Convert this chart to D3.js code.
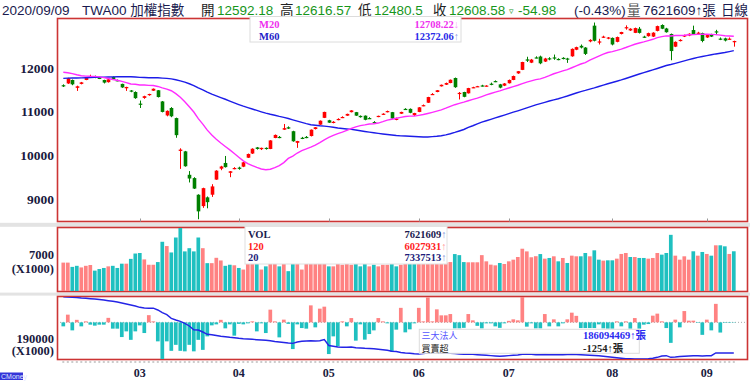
<!DOCTYPE html>
<html><head><meta charset="utf-8">
<script src="https://cdn.jsdelivr.net/npm/d3@7"></script>
<style>html,body{margin:0;padding:0;background:#fff;}svg{display:block;}</style>
</head><body>
<svg id="c" width="750" height="391"></svg>
<script>
// ---------------- DATA ----------------
const tradingDays = [
"02/05","02/06","02/07","02/10","02/11","02/12","02/13","02/14","02/17","02/18","02/19","02/20","02/21","02/24","02/25","02/26","02/27",
"03/02","03/03","03/04","03/05","03/06","03/09","03/10","03/11","03/12","03/13","03/16","03/17","03/18","03/19","03/20","03/23","03/24","03/25","03/26","03/27","03/30","03/31",
"04/01","04/06","04/07","04/08","04/09","04/10","04/13","04/14","04/15","04/16","04/17","04/20","04/21","04/22","04/23","04/24","04/27","04/28","04/29","04/30",
"05/04","05/05","05/06","05/07","05/08","05/11","05/12","05/13","05/14","05/15","05/18","05/19","05/20","05/21","05/22","05/25","05/26","05/27","05/28","05/29",
"06/01","06/02","06/03","06/04","06/05","06/08","06/09","06/10","06/11","06/12","06/15","06/16","06/17","06/18","06/19","06/22","06/23","06/24","06/29","06/30",
"07/01","07/02","07/03","07/06","07/07","07/08","07/09","07/10","07/13","07/14","07/15","07/16","07/17","07/20","07/21","07/22","07/23","07/24","07/27","07/28","07/29","07/30","07/31",
"08/03","08/04","08/05","08/06","08/07","08/10","08/11","08/12","08/13","08/14","08/17","08/18","08/19","08/20","08/21","08/24","08/25","08/26","08/27","08/28","08/31",
"09/01","09/02","09/03","09/04","09/07","09/08","09/09"];

// closes before the first visible day (for moving averages)
const preCloses = [11426,11525,11520,11558,11560,11529,11570,11492,11557,11542,11567,11612,11542,11452,11529,11623,11635,11640,11580,11489,
11458,11428,11478,11560,11610,11620,11594,11640,11705,11927,11928,12020,12038,12039,12050,12090,12100,12068,12093,12110,11998,11997,
12100,12110,11953,11880,11817,11970,12024,12113,12179,12066,12091,12090,12118,11421,11495,11354,11555];

const opens = [11600,11640,11720,11540,11630,11720,11790,11800,11770,11720,11670,11790,11715,11630,11530,11480,11445,
11180,11310,11375,11475,11485,11230,10910,11080,10850,10100,10090,9555,9480,9100,8840,9040,9100,9445,9695,9825,9600,9700,
9720,9740,9945,10040,10180,10140,10170,10145,10395,10420,10585,10640,10550,10285,10400,10420,10440,10600,10700,10855,
10800,10750,10820,10870,10905,10985,10985,10900,10905,10850,10760,10880,10930,10985,10985,10825,10950,11060,11060,10915,
10990,11130,11200,11390,11445,11575,11612,11650,11765,11415,11445,11415,11545,11570,11595,11585,11635,11695,11620,11590,
11645,11720,11870,11950,12190,12115,12235,12255,12140,12215,12235,12200,12225,12210,12260,12410,12500,12460,12600,12960,12575,12700,12665,
12680,12590,12770,12915,12850,12795,12890,12710,12720,12710,12840,12975,12895,12770,12480,12620,12710,12735,12860,12790,12790,
12690,12762,12830,12665,12670,12650,12592.18];
const highs = [11620,11770,11730,11590,11675,11775,11840,11820,11790,11725,11745,11800,11730,11635,11565,11490,11460,
11250,11360,11405,11525,11490,11240,11025,11100,10860,10160,10100,9640,9500,9110,9260,9060,9340,9660,9760,9985,9640,9730,
9740,9850,10040,10160,10190,10175,10180,10345,10475,10440,10715,10660,10560,10330,10420,10440,10590,10645,10795,10995,
10810,10780,10845,10890,10950,11030,10990,10910,10910,10870,10780,10905,10960,11020,10990,10860,10995,11075,11070,10970,
11100,11160,11335,11420,11490,11615,11660,11730,11775,11445,11450,11540,11565,11585,11610,11600,11660,11710,11630,11650,
11730,11820,11925,12135,12250,12200,12260,12275,12225,12240,12300,12215,12240,12225,12440,12480,12530,12470,12650,13031,12660,12730,12700,
12690,12710,12820,12967,12900,12915,12930,12730,12800,12810,12960,12990,12910,12780,12600,12650,12755,12785,12960,12820,12800,
12755,12775,12865,12690,12685,12690,12616.57];
const lows = [11560,11630,11600,11470,11620,11715,11770,11760,11740,11640,11660,11725,11690,11540,11470,11440,11290,
11080,11290,11360,11470,11320,10980,10890,10870,10400,9690,9740,9380,9230,8540,8800,8790,9050,9440,9660,9720,9500,9680,
9670,9730,9940,10030,10130,10120,10130,10140,10390,10390,10580,10600,10310,10170,10370,10390,10430,10590,10695,10850,
10740,10730,10800,10850,10900,10980,10900,10860,10800,10830,10740,10870,10920,10980,10830,10800,10945,11035,10960,10900,
10985,11120,11195,11380,11440,11570,11605,11645,11540,11275,11325,11410,11535,11560,11570,11570,11600,11670,11530,11580,
11640,11715,11860,11945,12130,12105,12215,12080,12130,12170,12180,12170,12190,12110,12250,12400,12440,12290,12580,12600,12530,12680,12650,
12510,12580,12760,12868,12840,12790,12780,12680,12710,12700,12830,12880,12800,12170,12470,12600,12700,12720,12765,12770,12580,
12680,12700,12745,12630,12600,12640,12480.5];
const closes = [11590,11760,11620,11575,11665,11770,11795,11780,11760,11660,11735,11730,11705,11550,11560,11460,11305,
11170,11350,11400,11520,11330,10990,11015,10890,10460,10130,9750,9470,9240,8720,9250,8930,9290,9650,9745,9730,9635,9710,
9690,9840,10030,10150,10145,10170,10150,10340,10465,10415,10620,10610,10320,10325,10395,10410,10585,10640,10790,10990,
10745,10765,10830,10875,10945,11025,10905,10870,10810,10845,10750,10900,10950,11010,10840,10835,10990,11050,10970,10965,
11095,11145,11330,11400,11485,11610,11650,11725,11555,11425,11335,11535,11555,11578,11588,11592,11625,11685,11545,11640,
11720,11810,11920,12130,12160,12185,12225,12100,12210,12200,12225,12185,12205,12195,12430,12470,12460,12315,12635,12615,12600,12710,12690,
12530,12700,12815,12925,12890,12905,12795,12700,12790,12800,12950,12890,12810,12380,12590,12635,12745,12775,12770,12800,12610,
12745,12710,12820,12650,12620,12663.56,12608.58];

// volume, in 1000 張
const volumes = [5500,5500,4700,4900,4600,4900,5050,4000,4300,4500,4800,4900,4500,5300,5300,6200,7200,
7300,6100,5100,5100,5600,9400,8600,7400,10200,12000,7600,8200,7600,10200,8200,5400,5400,6400,5900,4900,5100,5000,
4500,4200,5600,5800,5500,4200,4800,5600,5500,4800,5900,3900,5600,5500,4200,5400,5600,5700,5600,6500,
4800,4800,5350,5100,5500,5100,5500,4800,5400,4800,5100,4800,5100,5100,5400,4800,5100,5400,5500,5300,
5600,5400,6000,5800,5600,5700,5500,5600,7100,6900,5600,5560,5560,5560,6900,5740,5120,4990,5430,5240,
5740,6050,6550,8100,7600,6500,6700,7100,6240,6370,6680,5740,6370,5430,6800,6680,6680,7300,6680,7800,6050,5870,5930,
5930,6240,7120,7300,6550,6550,6370,6370,6240,6370,7300,6990,7300,10700,6800,6050,6680,6050,7620,6800,7490,
7120,6800,8740,8740,8550,7120,7621.609];

// 三大法人 買賣超, 張
const instNet = [-15900,30700,-31900,10000,-15900,4000,-9200,-13100,-9200,-9200,17900,-25100,-25100,-58600,-35900,-69700,-35900,
-12000,-42600,28700,4000,-75700,-149400,-75700,-113500,-89600,-113500,-115500,-89600,-115500,-69700,-109600,-55800,-12000,-8000,10000,-23900,-8000,-53000,
-6000,-8000,-4000,4000,-35900,-4000,-42600,50600,4000,-59800,10800,-6000,-106400,-8000,-22700,-25100,67700,-19900,54600,62500,
-126300,-55800,-95600,4000,-15900,17100,-72900,-8000,-68900,-46600,-31900,17100,4000,-4000,-116700,-29100,57800,-39800,-27900,-4000,
57800,4000,99600,4000,51800,27900,27900,33100,-23900,-23900,-21900,33100,8000,-13900,-23900,-4000,-4000,-15900,-21900,-4000,
6000,12000,8000,101600,-17100,-4000,-23900,-23900,33100,-15900,12000,-15900,-4000,12000,38600,25900,-22700,-22700,-22700,-22700,-8000,-23900,-25100,
-25100,4000,-15900,4000,-25100,17100,-25100,-9200,-6800,26700,34700,4000,-22700,-81700,10800,-19900,45000,6800,6800,-2000,-49800,
10800,-31900,73700,-40600,-2000,-2000,-1254];

// 三大法人 total, 1000 張
const instHold = [200755,200676,200598,200520,200416,200338,200234,200156,200025,199895,199713,199557,199374,199114,198854,198593,198333,
197994,197812,197734,197760,197291,196588,196067,195130,194687,194349,193828,193125,192161,192083,191562,190963,190859,190651,190443,190339,190182,190052,
189922,189818,189740,189661,189557,189479,189401,189297,189089,188958,188828,188698,188600,188958,189141,189219,189271,189219,189297,189609,
188047,187839,187656,187578,187578,187656,187448,187396,187318,187266,187188,187084,186953,186797,186537,186485,186224,186094,186016,185886,
185834,185964,186094,186224,186198,186146,186094,186042,185938,185834,185755,185781,185729,185651,185573,185495,185417,185313,185235,185313,
185417,185495,185573,185755,185834,185755,185651,185651,185703,185651,185651,185651,185651,185703,185755,185703,185651,185573,185495,185443,185365,185235,185104,
184974,184844,184714,184610,184584,184558,184532,184532,184610,184740,184974,185313,185391,184974,185052,185182,185235,185313,185365,185391,185313,
185365,185391,186094,186094,186094,186094,186094];

const priceTicks = [9000,10000,11000,12000];
const volTicks = [7000];
const holdTicks = [190000];
const maLegend = [12708.22, 12372.06];
const volLegend = [7621609, 6027931, 7337513];
const instLegend = [186094469, -1254];

// ---------------- DRAW ----------------
const svg = d3.select("#c");
const N = closes.length;
const idx = d3.range(N);
const x = d3.scaleBand().domain(idx).range([61.05, 736.05]);
const cx = i => x(i) + x.bandwidth() / 2;

const yP = d3.scaleLinear().domain([9000, 12000]).range([199.1, 67.7]);
const yV = d3.scaleLinear().domain([0, 7000]).range([292, 254.6]);
const yI = d3.scaleLinear().domain([-150000, 105000]).range([360, 296]);
const yH = d3.scaleLinear().domain([186000, 190000]).range([353.36, 338]);

const L = 57, R = 748;
const panels = {main:[18,222], vol:[227,292], inst:[296,360]};

const serif = "'Liberation Serif','Times New Roman',serif";
const sans = "'Liberation Sans','Noto Sans CJK TC',sans-serif";
const navy = "#1a1a4e";
const up = "#ff0000", dn = "#008000";
const vUp = "#ff8282", vDn = "#1fc0c0";

const defs = svg.append("defs");
Object.entries(panels).forEach(([k,[t,b]]) => {
  defs.append("clipPath").attr("id","clip-"+k).append("rect")
    .attr("x", L+1).attr("y", t+1).attr("width", R-L-2).attr("height", b-t-2);
});

svg.append("rect").attr("width",750).attr("height",391).attr("fill","#fff");
svg.append("rect").attr("x",0).attr("y",222.8).attr("width",750).attr("height",4).attr("fill","#e3e3e3");
svg.append("rect").attr("x",0).attr("y",292.6).attr("width",750).attr("height",3).attr("fill","#e3e3e3");

// ---- header ----
const last = N - 1;
const f = v => String(+(+v).toFixed(2));
const chg = closes[last] - closes[last-1];
const pct = chg / closes[last-1] * 100;
const green = "#16961a";
const head = [
  [2, "2020/" + tradingDays[last], navy],
  [82, "TWA00 加權指數", navy],
  [201, "開", "#222"], [217, f(opens[last]), green],
  [280, "高", "#222"], [295, f(highs[last]), green],
  [358, "低", "#222"], [374, f(lows[last]), green],
  [433, "收", "#222"], [449, f(closes[last]), green],
  [518, chg.toFixed(2), green],
  [574, "(" + pct.toFixed(2) + "%)", navy],
  [627, "量", "#555"], [643, Math.round(volumes[last]*1000) + "↑張", navy],
  [721, "日線", navy]
];
svg.append("g").selectAll("text").data(head).join("text")
  .attr("x", d => d[0]).attr("y", 14.5).attr("fill", d => d[2])
  .attr("font-family", sans).attr("font-size", 13.5).text(d => d[1]);
svg.append("text").attr("x",509).attr("y",13.5).attr("fill",green).attr("font-family","DejaVu Sans")
  .attr("font-size",9).text("▿");

// ---- frames ----
Object.values(panels).forEach(([t,b]) => {
  svg.append("rect").attr("x", L+0.5).attr("y", t+0.5).attr("width", R-L-1).attr("height", b-t-1)
    .attr("fill","none").attr("stroke","#cc3434").attr("stroke-width",1.6);
});

// ---- candles ----
const gMain = svg.append("g").attr("clip-path","url(#clip-main)");
const cg = gMain.selectAll("g.c").data(idx).join("g").attr("class","c");
cg.append("line")
  .attr("x1", i => Math.round(cx(i)) + 0.5).attr("x2", i => Math.round(cx(i)) + 0.5)
  .attr("y1", i => yP(highs[i])).attr("y2", i => yP(lows[i]))
  .attr("stroke", i => closes[i] >= opens[i] ? up : dn).attr("stroke-width", 1);
cg.append("rect")
  .attr("x", i => Math.round(cx(i)) + 0.5 - 1.8).attr("width", 3.6)
  .attr("y", i => yP(Math.max(opens[i], closes[i])))
  .attr("height", i => Math.max(1.2, Math.abs(yP(opens[i]) - yP(closes[i]))))
  .attr("fill", i => closes[i] >= opens[i] ? up : dn);

// ---- moving averages ----
const allC = preCloses.concat(closes);
const P = preCloses.length;
const ma = n => idx.map(i => d3.mean(allC.slice(P + i - n + 1, P + i + 1)));
const ma20 = ma(20), ma60 = ma(60);
const lineP = arr => d3.line().x(i => cx(i)).y(i => yP(arr[i]))(idx);
gMain.append("path").attr("d", lineP(ma60)).attr("fill","none").attr("stroke","#1c1ce8").attr("stroke-width",1.4);
gMain.append("path").attr("d", lineP(ma20)).attr("fill","none").attr("stroke","#ff2cff").attr("stroke-width",1.4);

const monthStarts = idx.filter(i => i > 0 && tradingDays[i].slice(0,2) !== tradingDays[i-1].slice(0,2));
svg.append("g").selectAll("line").data(monthStarts).join("line")
  .attr("x1", i => Math.round(cx(i))+0.5).attr("x2", i => Math.round(cx(i))+0.5)
  .attr("y1", 218.5).attr("y2", 221.5).attr("stroke","#999");

// ---- volume ----
const prevClose = i => i === 0 ? preCloses[P-1] : closes[i-1];
const gVol = svg.append("g").attr("clip-path","url(#clip-vol)");
gVol.selectAll("rect").data(idx).join("rect")
  .attr("x", i => cx(i) - 1.85).attr("width", 3.7)
  .attr("y", i => yV(volumes[i])).attr("height", i => yV(0) - yV(volumes[i]))
  .attr("fill", i => closes[i] >= prevClose(i) ? vUp : vDn);

// ---- institutional ----
const gInst = svg.append("g").attr("clip-path","url(#clip-inst)");
gInst.append("line").attr("x1", L).attr("x2", R).attr("y1", yI(0)).attr("y2", yI(0))
  .attr("stroke","#aaa").attr("stroke-dasharray","1,2");
gInst.selectAll("rect").data(idx).join("rect")
  .attr("x", i => cx(i) - 1.85).attr("width", 3.7)
  .attr("y", i => Math.min(yI(0), yI(instNet[i])))
  .attr("height", i => Math.abs(yI(instNet[i]) - yI(0)))
  .attr("fill", i => instNet[i] >= 0 ? vUp : vDn);
gInst.append("path").attr("d", d3.line().x(i => cx(i)).y(i => yH(instHold[i]))(idx))
  .attr("fill","none").attr("stroke","#2424e6").attr("stroke-width",1.4);

svg.append("g").selectAll("rect").data(idx).join("rect")
  .attr("x", i => cx(i) - 1).attr("y", 361.5).attr("width", 2).attr("height", 1).attr("fill","#9a9a9a");

// ---- axes ----
function styleAxis(g, size) {
  g.select(".domain").remove();
  g.attr("font-family", serif).attr("font-size", size).attr("font-weight", "bold");
  g.selectAll("text").attr("fill", "#1a1a40");
}
svg.append("g").attr("transform","translate(54,0)")
  .call(d3.axisLeft(yP).tickValues(priceTicks).tickSize(0).tickPadding(0).tickFormat(d3.format("d")))
  .call(g => styleAxis(g, 13.5));
svg.append("g").attr("transform","translate(54,0)")
  .call(d3.axisLeft(yV).tickValues(volTicks).tickSize(0).tickPadding(0).tickFormat(d3.format("d")))
  .call(g => styleAxis(g, 12.5));
svg.append("g").attr("transform","translate(54,0)")
  .call(d3.axisLeft(yH).tickValues(holdTicks).tickSize(0).tickPadding(0).tickFormat(d3.format("d")))
  .call(g => styleAxis(g, 12.5));
[268.6, 351.4].forEach(yy => {
  svg.append("text").attr("x",54).attr("y",yy).attr("dy","0.32em").attr("text-anchor","end")
    .attr("font-family",serif).attr("font-weight","bold").attr("font-size",12.5).attr("fill","#1a1a40").text("(X1000)");
});
svg.append("g").attr("transform","translate(0,368.5)")
  .call(d3.axisBottom(x).tickValues(monthStarts).tickSize(0).tickPadding(0).tickFormat(i => tradingDays[i].slice(0,2)))
  .call(g => styleAxis(g, 12));

// ---- legends ----
const lg1 = svg.append("g");
lg1.append("rect").attr("x",250).attr("y",16.5).attr("width",211).attr("height",25.5)
  .attr("fill","#fff").attr("stroke","#dcdcdc");
const maRows = [["M20", maLegend[0], "↓", "#ee30ee", "#f7a0f7", 27.5], ["M60", maLegend[1], "↑", "#2222c8", "#8c9ae8", 39.5]];
maRows.forEach(r => {
  lg1.append("text").attr("x",259).attr("y",r[5]).attr("font-family",serif).attr("font-weight","bold")
    .attr("font-size",10.5).attr("fill",r[3]).text(r[0]);
  const t = lg1.append("text").attr("x",459).attr("y",r[5]).attr("text-anchor","end")
    .attr("font-family",serif).attr("font-weight","bold").attr("font-size",10.5);
  t.append("tspan").attr("fill", r[0]==="M20" ? "#ee30ee" : "#2a2ae8").text(r[1].toFixed(2));
  t.append("tspan").attr("fill", r[4]).text(r[2]);
});

const lg2 = svg.append("g");
lg2.append("rect").attr("x",245).attr("y",226.3).attr("width",202).attr("height",37.7)
  .attr("fill","#fff").attr("stroke","#e0e0e0");
const volRows = [["VOL", volLegend[0], navy, "#8a96d8", 237.8], ["120", volLegend[1], "#ff2222", "#ff9a9a", 249.6], ["20", volLegend[2], "#1e1e7a", "#8a96d8", 261.3]];
volRows.forEach(r => {
  lg2.append("text").attr("x",248).attr("y",r[4]).attr("font-family",serif).attr("font-weight","bold")
    .attr("font-size",10.5).attr("fill",r[2]).text(r[0]);
  const t = lg2.append("text").attr("x",446.5).attr("y",r[4]).attr("text-anchor","end")
    .attr("font-family",serif).attr("font-weight","bold").attr("font-size",10.5);
  t.append("tspan").attr("fill",r[2]).text(r[1]);
  t.append("tspan").attr("fill",r[3]).text("↑");
});

const lg3 = svg.append("g");
lg3.append("rect").attr("x",419.3).attr("y",329.3).attr("width",220).attr("height",24)
  .attr("fill","#fff").attr("stroke","#dcdcdc");
const instRows = [["三大法人", instLegend[0], "#5555ff", "#2a2af0", 338.8], ["買賣超", instLegend[1], "#222", "#222", 352.2]];
instRows.forEach(r => {
  lg3.append("text").attr("x",421.5).attr("y",r[4]).attr("font-family","'Noto Sans CJK TC',sans-serif")
    .attr("font-size",9).attr("fill",r[2]).text(r[0]);
  lg3.append("text").attr("x",583).attr("y",r[4]).attr("font-family",serif+",'Noto Sans CJK TC'")
    .attr("font-weight","bold").attr("font-size",10.5).attr("fill",r[3]).text(r[1] + "↑張");
});

svg.append("rect").attr("x",0).attr("y",372.5).attr("width",23).attr("height",7.5).attr("fill","#3434d8");
svg.append("text").attr("x",1).attr("y",379).attr("font-family",sans).attr("font-size",7)
  .attr("fill","#dfe4ff").text("CMoney");
</script>
</body></html>
